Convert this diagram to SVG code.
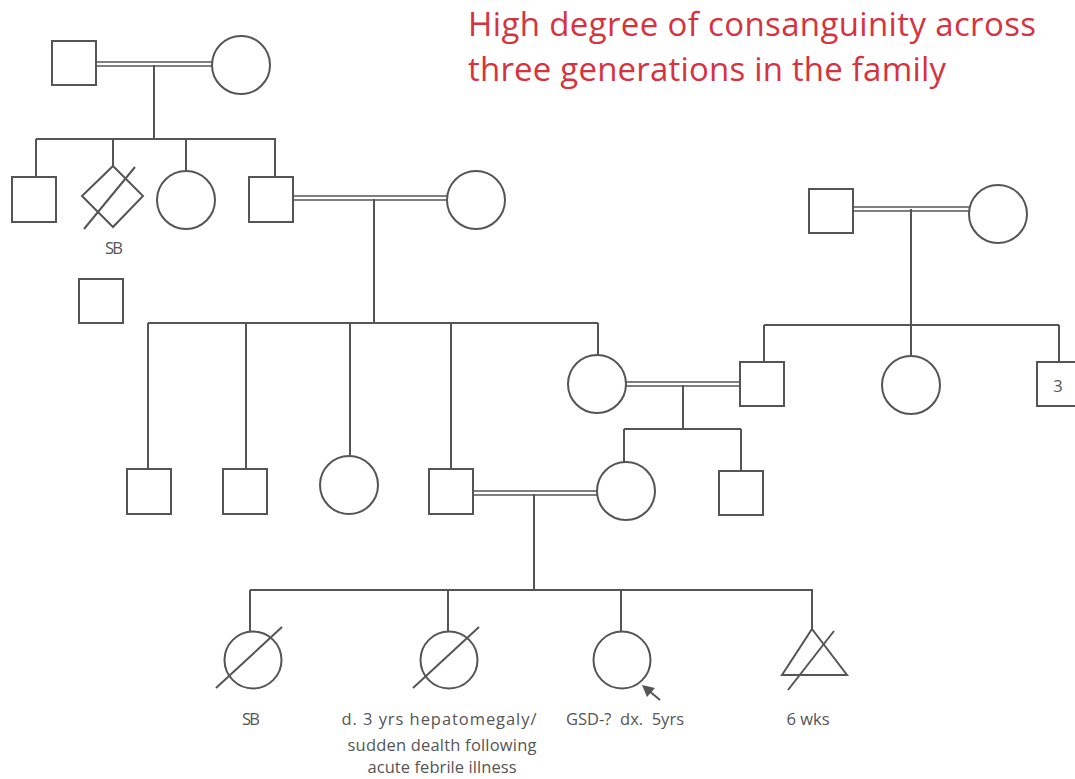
<svg xmlns="http://www.w3.org/2000/svg" width="1075" height="779" viewBox="0 0 1075 779">
<style>
.s{fill:#fff;stroke:#555;stroke-width:2}
.l{fill:none;stroke:#555;stroke-width:2}
.d{fill:none;stroke:#555;stroke-width:1.6}
.t{font-family:"Open Sans","Noto Sans",sans-serif;font-size:16.5px;fill:#555;text-anchor:middle;white-space:pre}
.h{font-family:"Open Sans","Noto Sans",sans-serif;font-size:33px;fill:#d7333f}
</style>
<rect width="1075" height="779" fill="#fff"/>
<g id="connectors">
<path class="d" d="M96 62H213M96 66H213"/>
<path class="l" d="M154 65V139M36 139H276M36 139V177M113 139V166M186 139V172M275 139V177"/>
<path class="d" d="M293 196H447M293 200H447"/>
<path class="l" d="M374 199V323M148 323H598M148 323V469M246 323V469M350 323V456M451 323V469M598 323V355"/>
<path class="d" d="M853 207H969M853 211H969"/>
<path class="l" d="M911 209V325M764 325H1059M764 325V362M911 325V356M1059 325V362"/>
<path class="d" d="M626 382H740M626 386H740"/>
<path class="l" d="M683 385V429M624 429H741M624 429V462M741 429V471"/>
<path class="d" d="M473 491H597M473 495H597"/>
<path class="l" d="M534 494V590M250 590H813M250 590V632M448 590V632M621 590V632M812 590V629"/>
</g>
<g id="gp1"><rect class="s" x="52" y="41" width="44" height="44"/></g>
<g id="gp2"><circle class="s" cx="241" cy="65" r="29"/></g>
<g id="g2a"><rect class="s" x="12" y="177" width="44" height="45"/></g>
<g id="g2b"><path class="s" d="M113 166L143 196L113 227L82 196Z"/><path class="l" d="M135 167L84 229"/><text class="t" x="114" y="254" textLength="18">SB</text></g>
<g id="g2c"><circle class="s" cx="186" cy="200" r="29"/></g>
<g id="g2d"><rect class="s" x="249" y="177" width="44" height="45"/></g>
<g id="g2e"><circle class="s" cx="476" cy="200" r="29"/></g>
<g id="lone"><rect class="s" x="79" y="279" width="44" height="44"/></g>
<g id="rp1"><rect class="s" x="809" y="189" width="44" height="44"/></g>
<g id="rp2"><circle class="s" cx="998" cy="214" r="29"/></g>
<g id="r2a"><rect class="s" x="740" y="362" width="44" height="44"/></g>
<g id="r2b"><circle class="s" cx="911" cy="385" r="29"/></g>
<g id="r2c"><rect class="s" x="1037" y="362" width="44" height="44"/><text class="t" x="1058" y="392">3</text></g>
<g id="g3a"><rect class="s" x="127" y="469" width="44" height="45"/></g>
<g id="g3b"><rect class="s" x="223" y="469" width="44" height="45"/></g>
<g id="g3c"><circle class="s" cx="349" cy="485" r="29"/></g>
<g id="g3d"><rect class="s" x="429" y="469" width="44" height="45"/></g>
<g id="g3e"><circle class="s" cx="597" cy="384" r="29"/></g>
<g id="g4b"><rect class="s" x="719" y="471" width="44" height="44"/></g>
<g id="g4m"><circle class="s" cx="626" cy="491" r="29"/></g>
<g id="c1"><circle class="s" cx="253" cy="660" r="28.5"/><path class="l" d="M282 627L216 688"/><text class="t" x="251" y="725" textLength="18">SB</text></g>
<g id="c2"><circle class="s" cx="449" cy="660" r="28.5"/><path class="l" d="M479 627L413 688"/><text class="t" x="439" y="725" textLength="195">d. 3 yrs hepatomegaly/</text><text class="t" x="442" y="751" textLength="189">sudden dealth following</text><text class="t" x="442" y="773" textLength="149">acute febrile illness</text></g>
<g id="c3"><circle class="s" cx="622" cy="660" r="28.5"/><path class="l" d="M660 700L648 690"/><path d="M642 685L655 688L647 697Z" fill="#555"/><text class="t" x="625" y="725" textLength="118">GSD-?  dx.  5yrs</text></g>
<g id="c4"><path class="s" d="M812 629L847 675H782Z"/><path class="l" d="M834 631L788 690"/><text class="t" x="808" y="725" textLength="43">6 wks</text></g>
<g id="title"><text class="h" x="468" y="36" textLength="568">High degree of consanguinity across</text><text class="h" x="468" y="81" textLength="478">three generations in the family</text></g>
</svg>
